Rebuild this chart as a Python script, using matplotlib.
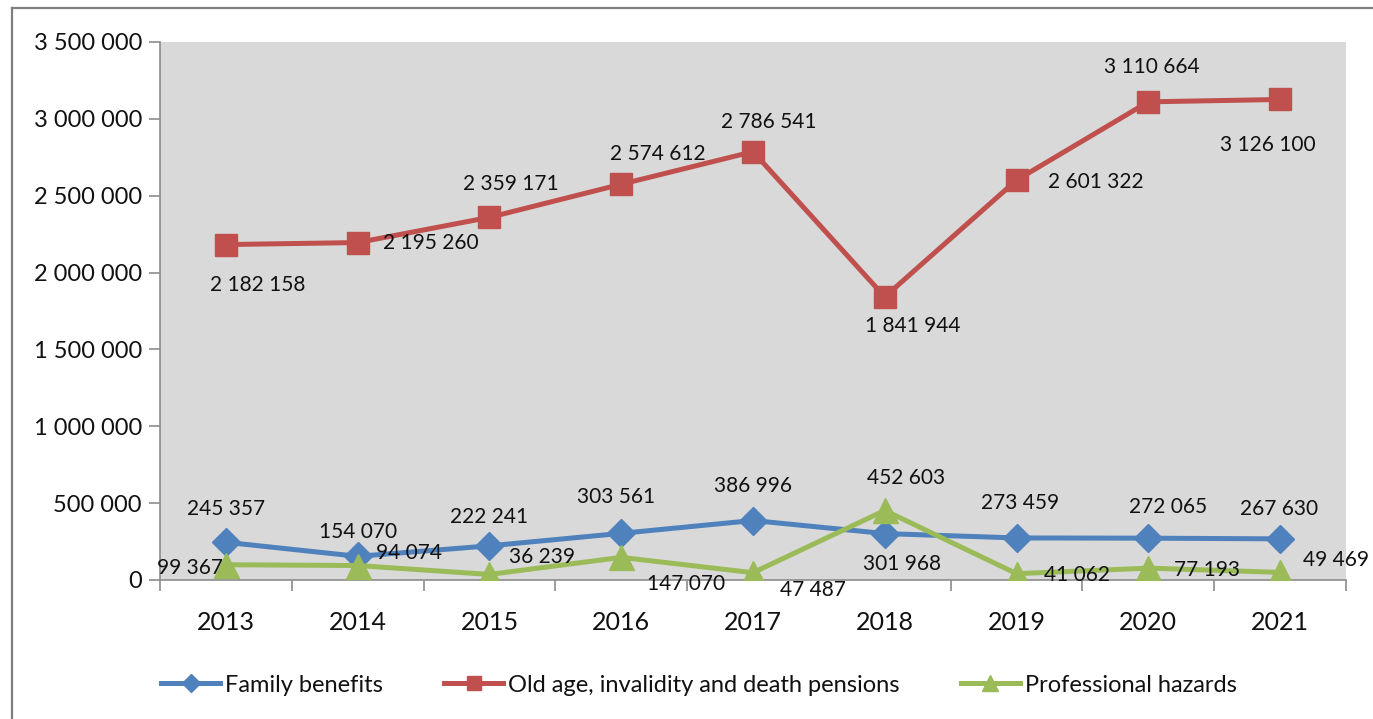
import matplotlib.pyplot as plt
from matplotlib.lines import Line2D
from matplotlib.ticker import FuncFormatter, FixedLocator

plt.rcParams['font.family'] = ['Lato', 'DejaVu Sans']

# data
years = ['2013', '2014', '2015', '2016', '2017', '2018', '2019', '2020', '2021']
family_benefits = [245357, 154070, 222241, 303561, 386996, 301968, 273459, 272065, 267630]
old_age_pensions = [2182158, 2195260, 2359171, 2574612, 2786541, 1841944, 2601322, 3110664, 3126100]
professional_hazards = [99367, 94074, 36239, 147070, 47487, 452603, 41062, 77193, 49469]
series_names = ['Family benefits', 'Old age, invalidity and death pensions', 'Professional hazards']

# label offsets (pixels) for each data label
red_off = [(32, -40), (73, 0), (21, 33), (37, 30), (16, 30), (28, -29), (79, -2), (3, 35), (-12, -46)]
blue_off = [(0, 33), (0, 24), (0, 29), (-5, 36), (0, 35), (17, -30), (4, 35), (20, 31), (-1, 30)]
green_off = [(-36, -3), (51, 13), (53, 17), (65, -27), (60, -17), (21, 32), (60, -1), (59, -2), (56, 12)]

BLUE = '#4F81BD'
RED = '#C0504D'
GREEN = '#9BBB59'
TXT = '#111111'


def fmt(v):
    return f'{v:,.0f}'.replace(',', ' ')


fig = plt.figure(figsize=(13.73, 7.19), dpi=100)
ax = fig.add_axes([160 / 1373, 139 / 719, 1186 / 1373, 538 / 719])
ax.set_facecolor('#D9D9D9')

# outer frame (cut by the image edges)
fig.add_artist(Line2D([12 / 1373, 1.0], [1 - 8 / 719, 1 - 8 / 719], color='#7F7F7F', lw=1.6))
fig.add_artist(Line2D([12 / 1373, 12 / 1373], [0, 1 - 8 / 719], color='#7F7F7F', lw=1.6))

x = list(range(len(years)))
ax.plot(x, family_benefits, color=BLUE, lw=3.6, marker='D', ms=14, zorder=3)
ax.plot(x, old_age_pensions, color=RED, lw=3.6, marker='s', ms=16, zorder=3)
ax.plot(x, professional_hazards, color=GREEN, lw=3.6, marker='^', ms=18, zorder=4)

for vals, offs in ((old_age_pensions, red_off), (family_benefits, blue_off), (professional_hazards, green_off)):
    for i, (v, o) in enumerate(zip(vals, offs)):
        ax.annotate(fmt(v), (i, v), xytext=o, textcoords='offset pixels',
                    ha='center', va='center', fontsize=15, color=TXT, zorder=5)

ax.set_xlim(-0.5, len(years) - 0.5)
ax.set_ylim(0, 3500000)
ax.yaxis.set_major_locator(FixedLocator([i * 500000 for i in range(8)]))
ax.yaxis.set_major_formatter(FuncFormatter(lambda v, p: fmt(v)))

ax.set_xticks([i - 0.5 for i in range(len(years) + 1)])
ax.set_xticklabels([])
ax.set_xticks(x, minor=True)
ax.set_xticklabels(years, minor=True)
ax.tick_params(axis='x', which='major', length=8, color='#8C8C8C', width=1.2)
ax.tick_params(axis='x', which='minor', length=0, pad=22, labelsize=18, labelcolor=TXT)
ax.tick_params(axis='y', length=8, color='#8C8C8C', width=1.2, pad=5, labelsize=17, labelcolor=TXT)

for s in ('top', 'right'):
    ax.spines[s].set_visible(False)
for s in ('left', 'bottom'):
    ax.spines[s].set_color('#8C8C8C')
    ax.spines[s].set_linewidth(1.2)

handles = [
    Line2D([], [], color=BLUE, lw=3.6, marker='D', ms=9),
    Line2D([], [], color=RED, lw=3.6, marker='s', ms=10),
    Line2D([], [], color=GREEN, lw=3.6, marker='^', ms=11),
]
leg = fig.legend(handles, series_names, loc='center', bbox_to_anchor=(0.509, 34 / 719), ncol=3,
                 frameon=False, fontsize=17, handlelength=2.5, handletextpad=0.2, columnspacing=2.6)
for t in leg.get_texts():
    t.set_color(TXT)

fig.savefig('out.png', dpi=100)
